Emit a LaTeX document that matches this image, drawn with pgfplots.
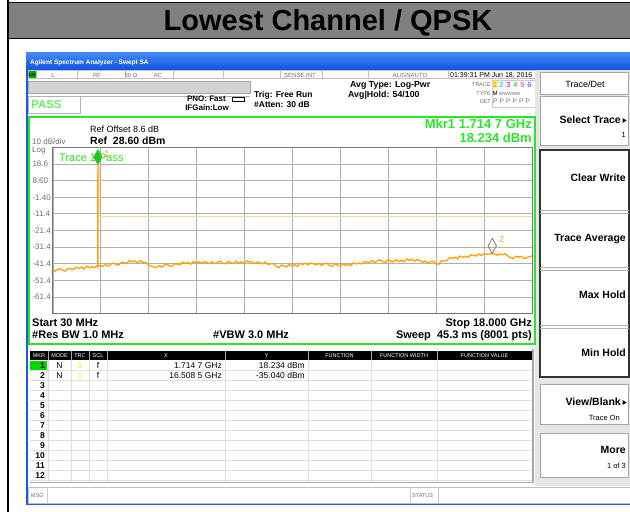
\documentclass[border=0pt]{standalone}
\usepackage{pgfplots}
\pgfplotsset{compat=1.18}
\usepackage{fontspec}
\setmainfont{Liberation Sans}
\definecolor{trc}{RGB}{255,160,0}
\definecolor{lim}{RGB}{255,214,160}
\definecolor{grn}{RGB}{40,230,40}
\definecolor{mkg}{RGB}{30,200,30}
\definecolor{passg}{RGB}{100,240,100}
\definecolor{gridc}{RGB}{175,175,175}
\definecolor{ttl}{RGB}{128,128,128}
\definecolor{txtg}{RGB}{110,110,110}
\definecolor{winb}{RGB}{30,90,225}
\newcommand{\fs}[1]{\fontsize{#1}{#1}\selectfont}
\begin{document}
\begin{tikzpicture}
\useasboundingbox (0,0) rectangle (630pt,-512pt);
\begin{scope}[x=1pt,y=-1pt]
\fill[white] (0,0) rectangle (630,512);
% title band
\fill[ttl] (7,3) rectangle (630,38);
\draw[line width=1.6pt] (7,2.5)--(630,2.5) (7,38.5)--(630,38.5);
\draw[line width=2pt] (8,0)--(8,512);
\node[font=\bfseries\fs{29}, anchor=base, inner sep=0] at (328,30) {Lowest Channel / QPSK};
% window frame
\shade[top color={rgb,255:red,70;green,140;blue,245}, bottom color={rgb,255:red,20;green,85;blue,225}] (26,52) rectangle (630,69);
\node[font=\bfseries\fs{6.5}, text=white, anchor=base west, inner sep=0] at (30,64) {Agilent Spectrum Analyzer - Swept SA};
\fill[winb] (26,69) rectangle (28,505);
\fill[winb] (26,503) rectangle (630,505);
% status row
\draw[gray!50, fill=white] (28,70) rectangle (535,78.5);
\foreach \xx in {36,77,125,173,223,280,322,368,448} \draw[gray!50] (\xx,70)--(\xx,78.5);
\fill[green!70!black] (28.5,70.5) rectangle (35.5,78);
\node[font=\bfseries\fs{4.5}, anchor=base, inner sep=0] at (32,76.5) {LXI};
\begin{scope}[every node/.style={font=\fs{6}, text=txtg, anchor=base, inner sep=0}]
\node at (53,77) {L};
\node at (97,77) {RF};
\node at (131,77) {50 Ω};
\node at (158,77) {AC};
\node at (300,77) {SENSE:INT};
\node at (410,77) {ALIGNAUTO};
\end{scope}
\node[font=\fs{7}, anchor=base west, inner sep=0] at (450,77) {01:39:31 PM Jun 18, 2016};
% gray bar, PASS
\draw[gray!70, fill=gray!35] (28,81) rectangle (250,93);
\draw[gray!60] (28,96) rectangle (80,113);
\draw[gray!60] (80,96)--(250,96);
\node[font=\bfseries\fs{11.5}, text=passg, anchor=base west, inner sep=0] at (31,108) {PASS};
\node[font=\bfseries\fs{8}, anchor=base east, inner sep=0] at (226,101) {PNO: Fast};
\draw[line width=0.6pt] (232,97) rectangle (244,101.5);
\node[font=\bfseries\fs{8}, anchor=base east, inner sep=0] at (229,110) {IFGain:Low};
\node[font=\bfseries\fs{8.5}, anchor=base west, inner sep=0] at (254,97) {Trig: Free Run};
\node[font=\bfseries\fs{8.5}, anchor=base west, inner sep=0] at (254,107) {\#Atten: 30 dB};
\node[font=\bfseries\fs{8.8}, anchor=base west, inner sep=0] at (350,87) {Avg Type: Log-Pwr};
\node[font=\bfseries\fs{8.8}, anchor=base west, inner sep=0] at (348,97) {Avg|Hold: 54/100};
% trace table
\begin{scope}[every node/.style={font=\fs{5.5}, text=txtg, anchor=base east, inner sep=0}]
\node at (491,86) {TRACE};
\node at (491,95) {TYPE};
\node at (491,103) {DET};
\end{scope}
\draw[gray!40] (492,80) rectangle (535,107);
\fill[yellow!60] (492.5,80.5) rectangle (498,88);
\begin{scope}[every node/.style={font=\bfseries\fs{7.5}, anchor=base, inner sep=0}]
\node[text=trc] at (495,87) {1};
\node[text={rgb,255:red,40;green,200;blue,255}] at (501.5,87) {2};
\node[text={rgb,255:red,240;green,60;blue,240}] at (508.5,87) {3};
\node[text={rgb,255:red,90;green,210;blue,90}] at (515.5,87) {4};
\node[text={rgb,255:red,255;green,90;blue,200}] at (522.5,87) {5};
\node[text={rgb,255:red,150;green,100;blue,255}] at (529.5,87) {6};
\end{scope}
\node[font=\fs{6}, anchor=base west, inner sep=0] at (492.5,95) {M};
\node[font=\fs{4.5}, text=txtg, anchor=base west, inner sep=0] at (499,95) {WWWWW};
\node[font=\fs{6.5}, text=txtg, anchor=base west, inner sep=0] at (493,103.5) {P\,\,P\,\,P\,\,P\,\,P\,\,P};
% softkeys
\fill[gray!20] (535,70) rectangle (630,486);
\draw[gray!70, fill=white] (540,72) rectangle (628,94.5);
\node[font=\fs{9}, anchor=base, inner sep=0] at (585,87) {Trace/Det};
\draw[gray!70, fill=white] (540,96) rectangle (628,145);
\node[font=\bfseries\fs{10.5}, anchor=base east, inner sep=0] at (621,123) {Select Trace};
\fill (622.5,118)--(626.5,120.5)--(622.5,123)--cycle;
\node[font=\fs{7.5}, anchor=base east, inner sep=0] at (626,137) {1};
\draw[black!80, line width=1.5pt, fill=white] (540,150) rectangle (629,377);
\foreach \yy in {210,267,325} {\draw[gray!60] (540,\yy)--(629,\yy); \draw[gray!60] (540,\yy+3)--(629,\yy+3);}
\begin{scope}[every node/.style={font=\bfseries\fs{10.5}, anchor=base east, inner sep=0}]
\node at (626,181) {Clear Write};
\node at (626,241) {Trace Average};
\node at (626,298) {Max Hold};
\node at (626,356) {Min Hold};
\end{scope}
\draw[gray!70, fill=white] (540,384) rectangle (628,424);
\node[font=\bfseries\fs{10.5}, anchor=base east, inner sep=0] at (621,405) {View/Blank};
\fill (622.5,400)--(626.5,402.5)--(622.5,405)--cycle;
\node[font=\fs{7.5}, anchor=base east, inner sep=0] at (620,420) {Trace On};
\draw[gray!70, fill=white] (540,433) rectangle (628,477);
\node[font=\bfseries\fs{10.5}, anchor=base east, inner sep=0] at (626,453) {More};
\node[font=\fs{7.5}, anchor=base east, inner sep=0] at (626,468) {1 of 3};
% graph frame
\draw[grn, line width=2pt] (29,117) rectangle (535,344);
\node[font=\fs{9}, anchor=base west, inner sep=0] at (90,132) {Ref Offset 8.6 dB};
\node[font=\bfseries\fs{10.5}, anchor=base west, inner sep=0] at (90,144) {Ref\ \ 28.60 dBm};
\node[font=\fs{8}, text=txtg, anchor=base west, inner sep=0] at (32,144) {10 dB/div};
\node[font=\fs{8}, text=txtg, anchor=base west, inner sep=0] at (32,152) {Log};
\node[font=\bfseries\fs{13}, text=grn, anchor=base east, inner sep=0] at (532,128) {Mkr1 1.714 7 GHz};
\node[font=\bfseries\fs{13}, text=grn, anchor=base east, inner sep=0] at (532,142) {18.234 dBm};
\node[font=\fs{11}, text=grn, anchor=base west, inner sep=0] at (59,161.5) {Trace 1 Pass};
\node[font=\fs{10}, text=trc, anchor=base west, inner sep=0] at (104,157) {1};
\node[font=\fs{9}, text=trc, anchor=base west, inner sep=0] at (499,242) {2};
\node[font=\bfseries\fs{11}, anchor=base west, inner sep=0] at (32,326) {Start 30 MHz};
\node[font=\bfseries\fs{11}, anchor=base east, inner sep=0] at (532,326) {Stop 18.000 GHz};
\node[font=\bfseries\fs{11}, anchor=base west, inner sep=0] at (32,338) {\#Res BW 1.0 MHz};
\node[font=\bfseries\fs{11}, anchor=base west, inner sep=0] at (213,338) {\#VBW 3.0 MHz};
\node[font=\bfseries\fs{11}, anchor=base east, inner sep=0] at (532,338) {Sweep\ \ 45.3 ms (8001 pts)};
% marker table
\fill[black] (30,351) rectangle (532,359.5);
\foreach \yy in {370,380,...,480} \draw[gray!25] (30,\yy)--(532,\yy);
\foreach \xx in {48,71,89,107,225,308,371,437} {\draw[gray!25] (\xx,359.5)--(\xx,482); \draw[gray!70] (\xx,351)--(\xx,359.5);}
\begin{scope}[every node/.style={font=\fs{5.5}, text=white, anchor=base, inner sep=0}]
\node at (39,357.5) {MKR};
\node at (59.5,357.5) {MODE};
\node at (80,357.5) {TRC};
\node at (98,357.5) {SCL};
\node at (166,357.5) {X};
\node at (266.5,357.5) {Y};
\node at (339.5,357.5) {FUNCTION};
\node at (404,357.5) {FUNCTION WIDTH};
\node at (484.5,357.5) {FUNCTION VALUE};
\end{scope}
\fill[green!85!black] (30,361) rectangle (47,369.5);
\foreach \k in {1,...,12} \node[font=\bfseries\fs{8.5}, anchor=base east, inner sep=0] at (45,368.5+10*\k-10) {\k};
\node[font=\fs{8.5}, anchor=base, inner sep=0] at (59.5,368.5) {N};
\node[font=\fs{8.5}, anchor=base, inner sep=0] at (59.5,378.5) {N};
\node[font=\fs{8.5}, text=yellow!90!orange, anchor=base, inner sep=0] at (80,368.5) {1};
\node[font=\fs{8.5}, text=yellow!90!orange, anchor=base, inner sep=0] at (80,378.5) {1};
\node[font=\fs{8.5}, anchor=base, inner sep=0] at (98,368.5) {f};
\node[font=\fs{8.5}, anchor=base, inner sep=0] at (98,378.5) {f};
\node[font=\fs{8.5}, anchor=base east, inner sep=0] at (222,368.5) {1.714 7 GHz};
\node[font=\fs{8.5}, anchor=base east, inner sep=0] at (222,378.5) {16.508 5 GHz};
\node[font=\fs{8.5}, anchor=base east, inner sep=0] at (305,368.5) {18.234 dBm};
\node[font=\fs{8.5}, anchor=base east, inner sep=0] at (305,378.5) {-35.040 dBm};
\draw[gray!70, line width=1.5pt] (30,482.5)--(533,482.5)--(533,349);
% status bar
\draw[gray!50, fill=white] (28,487) rectangle (630,503);
\draw[gray!40] (47,487)--(47,503) (410,487)--(410,503) (438,487)--(438,503);
\node[font=\fs{5.5}, text=txtg, anchor=base west, inner sep=0] at (31,497) {MSG};
\node[font=\fs{5.5}, text=txtg, anchor=base west, inner sep=0] at (412,497) {STATUS};
\end{scope}
\begin{axis}[
  at={(53pt,-147.3pt)}, anchor=north west, scale only axis,
  width=479pt, height=166.5pt,
  xmin=0.03, xmax=18, ymin=-71.4, ymax=28.6,
  xtick={0.03,1.827,3.624,5.421,7.218,9.015,10.812,12.609,14.406,16.203,18},
  xticklabels={},
  ytick={28.6,18.6,8.6,-1.4,-11.4,-21.4,-31.4,-41.4,-51.4,-61.4,-71.4},
  yticklabels={,18.6,8.60,-1.40,-11.4,-21.4,-31.4,-41.4,-51.4,-61.4,},
  yticklabel style={font=\fs{8}, text=txtg, anchor=west, xshift=-24pt},
  grid=major, major grid style={gridc, line width=0.9pt},
  major tick length=0pt,
  axis line style={black!55, line width=1pt},
  clip=false,
]
\addplot[lim, line width=1pt] coordinates {(1.785,31) (1.785,-13) (18,-13)};
\addplot[trc, line width=1.3pt] coordinates {
(0.03,-44.8) (0.1,-45.8) (0.2,-44.8) (0.3,-44.2) (0.4,-45.3) (0.5,-45.7) (0.6,-44.0) (0.7,-44.5) (0.8,-44.8) (0.9,-43.3)
(1.0,-44.2) (1.1,-43.4) (1.2,-44.5) (1.3,-42.8) (1.4,-43.7) (1.5,-43.0) (1.6,-43.7) (1.7,-42.2) (1.712,-42.9) (1.7147,18.234)
(1.717,-42.6) (1.8,-42.5) (1.9,-42.9) (2.0,-41.8) (2.1,-42.7) (2.2,-41.6) (2.3,-40.9) (2.4,-41.8) (2.5,-42.1) (2.6,-40.4)
(2.7,-40.7) (2.8,-41.0) (2.9,-39.3) (3.0,-40.2) (3.1,-39.6) (3.2,-40.9) (3.3,-39.4) (3.4,-40.5) (3.5,-40.4) (3.6,-41.7)
(3.7,-42.9) (3.8,-43.2) (3.9,-43.7) (4.0,-42.5) (4.1,-43.4) (4.2,-42.3) (4.3,-41.6) (4.4,-42.6) (4.5,-42.9) (4.6,-41.2)
(4.7,-41.6) (4.8,-41.9) (4.9,-40.3) (5.0,-41.2) (5.1,-40.5) (5.2,-41.6) (5.3,-39.9) (5.4,-40.8) (5.5,-40.2) (5.6,-41.2)
(5.7,-40.0) (5.8,-40.5) (5.9,-41.2) (6.0,-40.3) (6.1,-41.3) (6.2,-40.4) (6.3,-39.8) (6.4,-41.0) (6.5,-41.4) (6.6,-40.0)
(6.7,-40.6) (6.8,-41.2) (6.9,-39.8) (7.0,-41.0) (7.1,-40.2) (7.2,-41.2) (7.3,-39.5) (7.4,-40.3) (7.5,-40.1) (7.6,-41.2)
(7.7,-40.2) (7.8,-40.9) (7.9,-41.4) (8.0,-40.3) (8.1,-41.8) (8.2,-41.3) (8.3,-41.2) (8.4,-42.8) (8.5,-43.7) (8.6,-42.2)
(8.7,-42.7) (8.8,-43.2) (8.9,-41.7) (9.0,-42.8) (9.1,-41.9) (9.2,-42.8) (9.3,-41.1) (9.4,-41.8) (9.5,-41.0) (9.6,-42.0)
(9.7,-40.8) (9.8,-41.3) (9.9,-42.0) (10.0,-41.1) (10.1,-42.3) (10.2,-41.5) (10.3,-41.0) (10.4,-42.3) (10.5,-42.9) (10.6,-41.4)
(10.7,-42.1) (10.8,-42.6) (10.9,-41.3) (11.0,-42.4) (11.1,-41.6) (11.2,-42.5) (11.3,-40.8) (11.4,-41.5) (11.5,-40.8) (11.6,-41.5)
(11.7,-40.0) (11.8,-40.3) (11.9,-40.7) (12.0,-39.5) (12.1,-40.5) (12.2,-39.5) (12.3,-39.0) (12.4,-40.1) (12.5,-40.5) (12.6,-39.0)
(12.7,-39.7) (12.8,-40.2) (12.9,-38.9) (13.0,-40.0) (13.1,-39.2) (13.2,-40.2) (13.3,-38.5) (13.4,-39.3) (13.5,-38.6) (13.6,-39.8)
(13.7,-38.8) (13.8,-39.5) (13.9,-40.4) (14.0,-39.7) (14.1,-40.9) (14.2,-40.1) (14.3,-39.8) (14.4,-41.1) (14.5,-41.7) (14.6,-39.6)
(14.7,-39.7) (14.8,-39.6) (14.9,-37.7) (15.0,-38.2) (15.1,-37.4) (15.2,-38.4) (15.3,-36.7) (15.4,-37.5) (15.5,-36.8) (15.6,-37.5)
(15.7,-36.0) (15.8,-36.3) (15.9,-36.7) (16.0,-35.5) (16.1,-36.4) (16.2,-35.3) (16.3,-35.6) (16.4,-35.5) (16.5085,-35.04) (16.6,-35.6)
(16.7,-36.2) (16.8,-35.5) (16.9,-35.9) (17.0,-35.3) (17.1,-36.8) (17.2,-37.6) (17.3,-38.2) (17.4,-36.8) (17.5,-37.4) (17.6,-36.9)
(17.7,-38.3) (17.8,-37.6) (17.9,-37.2) (18.0,-36.6)
};
\addplot[only marks, mark=diamond*, mark size=7.5pt, mark options={yshift=7.5pt, xscale=0.75, fill=mkg, draw=mkg}] coordinates {(1.7147,18.234)};
\addplot[only marks, mark=diamond, mark size=7.5pt, mark options={yshift=7.5pt, xscale=0.75, draw=gray, line width=0.8pt}] coordinates {(16.5085,-35.04)};
\end{axis}
\end{tikzpicture}
\end{document}
